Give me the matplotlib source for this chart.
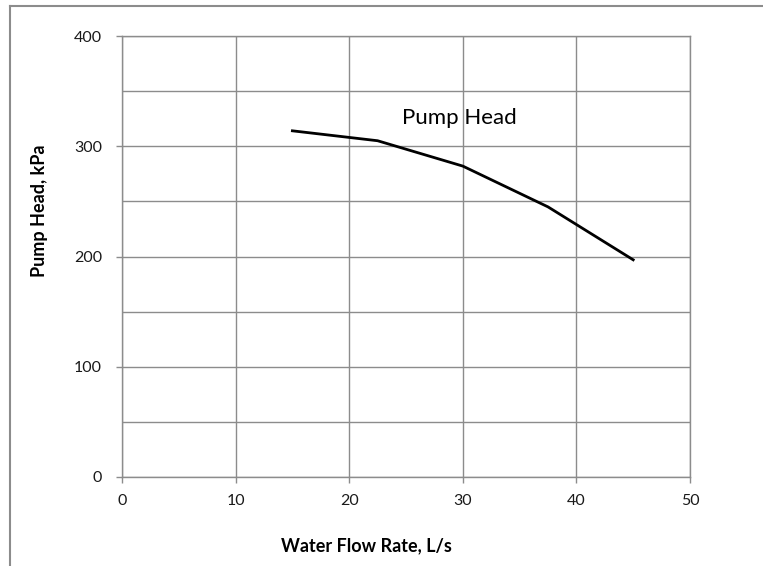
#!/bin/env python3

import matplotlib.pyplot as plt
from matplotlib.lines import Line2D

# pump curve: water flow (L/s) vs. head (kPa)
flow = [15, 22.5, 30, 37.5, 45]
head = [314, 305, 282, 245, 197]

x_ticks = [0, 10, 20, 30, 40, 50]
y_ticks = [0, 100, 200, 300, 400]
y_grid = [50, 150, 250, 350]


def main():
    plt.rcParams['font.family'] = ['Lato', 'DejaVu Sans']
    grid_c = '#8c8c8c'

    fig = plt.figure(figsize=(7.63, 5.66), dpi=100)
    ax = fig.add_axes([122/763, 1 - 477/566, 568/763, 441/566])

    ax.plot(flow, head, color='black', lw=2, solid_joinstyle='round')

    ax.set_xlim(0, 50)
    ax.set_ylim(0, 400)
    ax.set_xticks(x_ticks)
    ax.set_yticks(y_ticks)
    ax.grid(True, color=grid_c, lw=1)
    for v in y_grid:
        ax.axhline(v, color=grid_c, lw=1, zorder=0.5)
    ax.set_axisbelow(True)

    for s in ax.spines.values():
        s.set_color(grid_c)
        s.set_linewidth(1)
    ax.tick_params(colors=grid_c, labelcolor='#1a1a1a', labelsize=11.5,
                   length=4.5, width=1)
    ax.tick_params(axis='x', pad=8)
    ax.tick_params(axis='y', pad=10)

    ax.set_xlabel('Water Flow Rate, L/s', fontsize=13, fontweight='bold')
    ax.set_ylabel('Pump Head, kPa', fontsize=13, fontweight='bold')
    # axis titles sit a little off-centre
    ax.xaxis.set_label_coords(0.431, -0.136)
    ax.yaxis.set_label_coords(-0.131, 0.603)

    ax.text(29.7, 326, 'Pump Head', fontsize=16, ha='center', va='center')

    # chart frame (top and left edges)
    fig.add_artist(Line2D([10/763, 1], [1 - 6/566, 1 - 6/566],
                          color='#8c8c8c', lw=1.5))
    fig.add_artist(Line2D([10/763, 10/763], [0, 1 - 6/566],
                          color='#8c8c8c', lw=1.5))

    fig.savefig('out.png', dpi=100)


if __name__ == '__main__':
    main()
